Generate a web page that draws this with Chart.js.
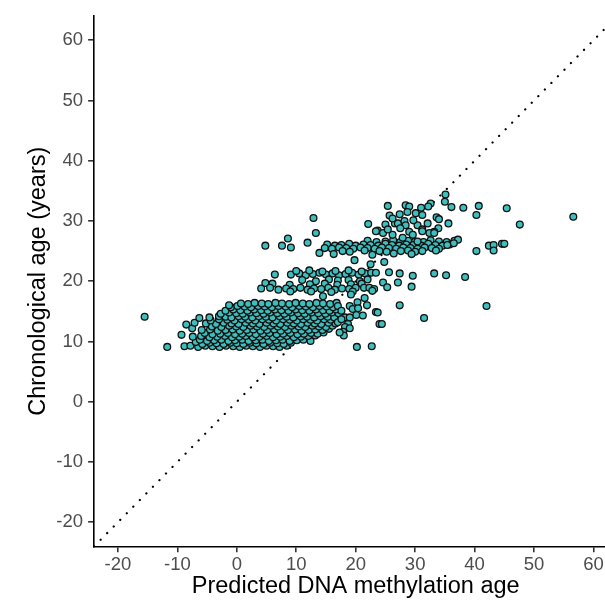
<!DOCTYPE html>
<html><head><meta charset="utf-8">
<script src="https://cdn.jsdelivr.net/npm/chart.js@4/dist/chart.umd.min.js"></script>
<style>
html,body{margin:0;padding:0;overflow:hidden;background:#fff;width:605px;height:601px}
#wrap{position:absolute;left:0;top:0;width:622px;height:601px}
</style>
</head><body><div id="wrap"><canvas id="c"></canvas></div>
<script>
// [predicted DNA methylation age, chronological age]
const mainCluster = [
[-8.8,9.2],[-7.8,9.3],[-6.5,9.1],[-5.3,9.3],[-4.1,9.2],[-2.9,9.1],[-1.8,9.3],[-0.6,9.2],[0.5,9.1],[1.6,9.3],[2.7,9.2],[3.9,9.1],[5.0,9.3],[6.1,9.2],[7.2,9.1],[8.4,9.3],
[-6.9,9.9],[-5.8,9.6],[-4.6,9.8],[-3.4,9.7],[-2.2,9.6],[-1.1,9.8],[0.0,9.7],[1.1,9.6],[2.2,9.8],[3.3,9.7],[4.5,9.6],[5.6,9.8],[6.8,9.7],[7.9,9.6],[9.1,9.8],
[-6.2,10.3],[-5.0,10.1],[-3.8,10.2],[-2.6,10.3],[-1.4,10.1],[-0.3,10.2],[0.9,10.3],[2.0,10.1],[3.2,10.2],[4.3,10.3],[5.4,10.1],[6.6,10.2],[7.7,10.3],[8.9,10.1],[10.1,10.2],[11.2,10.3],[12.4,10.1],
[-9.3,11.1],[-7.4,10.8],[-6.0,10.9],[-4.6,10.7],[-3.3,10.8],[-2.0,10.9],[-0.8,10.7],[0.4,10.8],[1.5,10.9],[2.7,10.7],[3.8,10.8],[5.0,10.9],[6.1,10.7],[7.3,10.8],[8.4,10.9],[9.6,10.7],[10.8,10.8],[12.0,10.9],[13.2,11.0],
[-5.4,11.4],[-4.1,11.2],[-2.8,11.3],[-1.5,11.4],[-0.3,11.2],[0.9,11.3],[2.1,11.4],[3.2,11.2],[4.4,11.3],[5.5,11.4],[6.7,11.2],[7.8,11.3],[9.0,11.4],[10.2,11.2],[11.3,11.3],[12.5,11.4],[13.6,11.3],[14.6,11.5],
[-7.5,12.2],[-5.9,11.9],[-4.5,12.0],[-3.2,11.8],[-1.9,11.9],[-0.7,12.0],[0.5,11.8],[1.7,11.9],[2.8,12.0],[4.0,11.8],[5.1,11.9],[6.3,12.0],[7.4,11.8],[8.6,11.9],[9.8,12.0],[10.9,11.8],[12.1,11.9],[13.2,12.0],[14.4,11.9],[15.5,12.1],
[-8.5,12.8],[-4.2,12.5],[-2.6,12.4],[-1.3,12.6],[-0.1,12.5],[1.1,12.4],[2.3,12.6],[3.4,12.5],[4.6,12.4],[5.7,12.6],[6.9,12.5],[8.1,12.4],[9.2,12.6],[10.4,12.5],[11.5,12.4],[12.7,12.6],[13.8,12.5],[15.0,12.4],[16.1,12.6],
[-7.1,13.1],[-5.2,13.0],[-3.5,12.9],[-2.2,13.1],[-0.9,13.0],[0.3,12.9],[1.5,13.1],[2.7,13.0],[3.8,12.9],[5.0,13.1],[6.2,13.0],[7.3,12.9],[8.5,13.1],[9.6,13.0],[10.8,12.9],[11.9,13.1],[13.1,13.0],[14.2,12.9],[15.4,13.1],[16.6,13.0],
[-4.4,13.5],[-3.0,13.7],[-1.6,13.6],[-0.4,13.5],[0.8,13.7],[2.0,13.6],[3.1,13.5],[4.3,13.7],[5.4,13.6],[6.6,13.5],[7.8,13.7],[8.9,13.6],[10.1,13.5],[11.2,13.7],[12.4,13.6],[13.5,13.5],[14.7,13.7],[15.8,13.6],[16.9,13.5],
[-6.3,13.9],[-4.6,14.0],[-3.0,14.2],[-1.9,14.1],[-0.9,14.0],[0.3,14.2],[1.4,14.1],[2.6,14.0],[3.7,14.2],[4.9,14.1],[6.0,14.0],[7.2,14.2],[8.4,14.1],[9.5,14.0],[10.7,14.2],[11.8,14.1],[13.0,14.0],[14.1,14.2],[15.3,14.1],[16.4,14.0],
[-2.7,14.6],[-1.3,14.8],[-0.1,14.7],[1.0,14.6],[2.2,14.8],[3.3,14.7],[4.5,14.6],[5.6,14.8],[6.8,14.7],[8.0,14.6],[9.1,14.8],[10.3,14.7],[11.4,14.6],[12.6,14.8],[13.7,14.7],[14.9,14.6],[16.0,14.8],[17.1,14.7],
[-1.9,15.1],[-0.6,15.3],[0.6,15.2],[1.8,15.1],[2.9,15.3],[4.1,15.2],[5.2,15.1],[6.4,15.3],[7.5,15.2],[8.7,15.1],[9.9,15.3],[11.0,15.2],[12.2,15.1],[13.3,15.3],[14.5,15.2],[15.6,15.1],[16.7,15.3],
[-1.0,15.7],[0.1,15.9],[1.3,15.8],[2.4,15.7],[3.6,15.9],[4.7,15.8],[5.9,15.7],[7.0,15.9],[8.2,15.8],[9.3,15.7],[10.5,15.9],[11.6,15.8],[12.8,15.7],[13.9,15.9],[15.1,15.8],[16.2,15.7],
[-1.3,16.0],[0.7,16.3],[1.9,16.2],[3.0,16.4],[4.2,16.3],[5.3,16.2],[6.5,16.4],[7.6,16.3],[8.8,16.2],[9.9,16.4],[11.1,16.3],[12.2,16.2],[13.4,16.4],[14.5,16.3],[15.7,16.2],[16.8,16.4]
];
const mainOutliers = [
[-15.5,14.1],[-11.7,9.1],
[17.0,15.9],[17.6,15.1],[19.0,15.9],[19.5,15.4],[20.3,16.5],[20.4,15.5],[20.1,14.4],[21.2,14.3],[18.2,14.0],[19.0,14.0],
[18.7,12.9],[18.2,12.4],[19.0,12.2],[17.9,11.6],[18.0,11.0],[17.3,11.5],[17.0,13.2],[17.6,13.7],
[21.9,16.0],[23.4,14.9],[23.7,14.8],[24.0,12.9],[24.4,12.9],[20.2,9.1],[22.7,9.2],[27.4,16.0],[31.5,13.9],[42.0,15.9]
];
const band20 = [
[6.4,21.1],[9.1,21.1],[10.5,21.3],[11.6,21.0],[12.8,21.2],[13.9,21.4],[15.0,21.1],[16.1,21.3],[17.2,21.0],[18.3,21.2],[19.4,21.4],[20.5,21.1],[21.6,21.3],[22.6,21.4],[23.4,21.4],[25.6,21.5],[27.4,21.3],[29.6,20.9],[33.2,21.3],[35.2,21.0],[38.4,20.7],
[10.0,21.7],[12.2,21.8],[14.4,21.6],[16.6,21.7],[18.8,21.8],[21.0,21.6],
[11.0,20.2],[13.3,20.0],[15.5,20.3],[17.0,20.1],[18.8,20.2],[20.7,20.0],[22.0,20.3],[24.6,19.8],[27.1,19.8],
[6.0,19.6],[8.9,19.4],[12.3,19.5],[14.8,19.6],[16.9,19.4],[19.2,19.5],[21.0,19.6],
[4.1,18.8],[4.8,19.7],[5.6,18.9],[7.0,18.6],[8.3,18.8],[9.5,18.7],[10.7,18.9],[11.9,18.6],[13.0,18.8],[14.2,18.7],[15.4,18.9],[16.5,18.6],[17.7,18.8],[18.9,18.7],[20.0,18.9],[21.4,18.9],[22.3,18.9],[23.1,18.7],[25.3,19.0],[29.4,19.1],
[9.0,18.3],[12.5,18.3],[15.9,18.2],[19.5,18.3],[22.8,18.4],
[14.5,17.5],[19.2,17.8],[21.5,17.2],[22.5,22.8],[24.8,23.2]
];
const band26 = [
[22.0,26.7],[23.5,26.5],[25.0,26.6],[26.3,26.8],[27.5,26.5],[28.8,26.7],[30.0,26.6],[31.4,26.5],[32.6,26.8],[34.0,26.6],[35.3,26.5],[36.6,26.7],[37.2,26.9],
[15.2,26.1],[16.5,25.9],[17.6,26.0],[18.9,26.2],[20.0,25.9],[21.3,26.1],[22.5,26.0],[23.8,25.9],[25.0,26.2],[26.1,26.0],[27.3,25.9],[28.5,26.1],[29.7,26.0],[31.0,25.9],[32.2,26.2],[33.4,26.0],[34.6,25.9],[35.8,26.1],[36.5,26.3],
[14.8,25.5],[16.0,25.4],[17.2,25.6],[18.4,25.5],[19.6,25.4],[20.8,25.6],[22.0,25.5],[23.2,25.4],[24.4,25.6],[25.6,25.5],[26.8,25.4],[28.0,25.6],[29.2,25.5],[30.4,25.4],[31.6,25.6],[32.8,25.5],[34.0,25.4],
[13.9,24.7],[17.8,25.0],[19.0,24.9],[21.5,25.1],[24.0,25.0],[25.2,24.9],[27.6,25.0],[28.8,25.1],[30.0,24.9],[31.2,25.0],[33.5,25.1],
[16.3,24.5],[22.8,24.4],[26.4,24.6],[29.4,24.5],[19.8,23.5],
[40.3,25.0],[42.4,25.9],[43.2,26.0],[43.2,25.1],[44.6,26.2],[45.0,26.2],[35.4,26.0],
[4.8,25.9],[7.6,25.9],[8.6,27.1],[9.1,25.6],[11.9,26.4],[12.9,30.5],[13.3,28.0]
];
const topGroup = [
[35.1,34.4],[35.0,33.2],[36.1,32.3],[38.1,32.2],[40.7,32.5],[40.3,31.0],[45.4,32.1],[47.6,29.4],[56.6,30.7],
[25.4,32.5],[28.4,32.6],[29.0,32.4],[31.0,32.2],[32.6,32.9],[32.2,32.4],
[25.7,30.9],[27.4,31.1],[28.7,31.5],[30.1,31.3],[31.2,31.0],[33.6,30.6],[34.0,30.3],[35.6,29.6],[33.9,28.8],[33.2,28.2],
[22.1,29.5],[25.0,29.4],[23.7,28.4],[26.6,29.6],[27.1,29.6],[28.2,30.0],[28.4,29.3],[30.4,29.3],[32.1,29.6],
[29.0,28.2],[29.6,27.7],[26.2,27.7],[32.4,28.0],[33.2,28.0],
[26.2,30.4],[27.5,28.8],[29.7,30.1],[31.2,28.6],[24.6,28.0],[27.9,27.2],[30.4,26.6],[23.4,28.3],[25.4,28.6],[31.2,28.3]
];
const xTickValues = [-20,-10,0,10,20,30,40,50,60];
const yTickValues = [-20,-10,0,10,20,30,40,50,60];
const identityLine = [[-24,-24],[64,64]];

const toXY = a => a.map(([x,y]) => ({x, y}));
const allPoints = [...mainCluster, ...mainOutliers, ...band20, ...band26, ...topGroup];
const FONT = "'Liberation Sans', Arial, sans-serif";

new Chart(document.getElementById('c'), {
  type: 'scatter',
  data: {
    datasets: [
      {
        type: 'scatter',
        data: toXY(allPoints),
        backgroundColor: '#3DBFBE',
        borderColor: '#111',
        borderWidth: 1.3,
        pointRadius: 3.4,
        pointHoverRadius: 3.4,
        order: 0
      },
      {
        type: 'line',
        data: toXY(identityLine),
        borderColor: '#000',
        borderWidth: 2.2,
        borderDash: [0.1, 9.2],
        borderCapStyle: 'round',
        pointRadius: 0,
        fill: false,
        order: 1
      }
    ]
  },
  options: {
    responsive: true,
    maintainAspectRatio: false,
    animation: false,
    events: [],
    layout: { padding: { left: 0, top: 10.65, right: 0.7, bottom: 0 } },
    plugins: { legend: { display: false }, tooltip: { enabled: false } },
    scales: {
      x: {
        type: 'linear', min: -24, max: 64,
        afterBuildTicks: s => { s.ticks = xTickValues.map(v => ({ value: v })); },
        afterFit: s => { s.height = 54.65; },
        ticks: { color: '#4D4D4D', font: { family: FONT, size: 18.5 }, padding: 1, maxRotation: 0, autoSkip: false },
        grid: { display: true, drawOnChartArea: false, drawTicks: true, tickLength: 6, color: '#333', lineWidth: 1.6 },
        border: { display: true, color: '#000', width: 1.6 },
        title: { display: true, text: 'Predicted DNA methylation age', color: '#000', font: { family: FONT, size: 23.5 }, padding: { top: 0, bottom: 0 } }
      },
      y: {
        type: 'linear', min: -24, max: 64,
        afterBuildTicks: s => { s.ticks = yTickValues.map(v => ({ value: v })); },
        afterFit: s => { s.width = 94.1; },
        ticks: { color: '#4D4D4D', font: { family: FONT, size: 18.5 }, padding: 5, autoSkip: false },
        grid: { display: true, drawOnChartArea: false, drawTicks: true, tickLength: 6, color: '#333', lineWidth: 1.6 },
        border: { display: true, color: '#000', width: 1.6 },
        title: { display: true, text: 'Chronological age (years)', color: '#000', font: { family: FONT, size: 23.5 }, padding: { top: 24, bottom: 0 } }
      }
    }
  }
});
</script></body></html>
